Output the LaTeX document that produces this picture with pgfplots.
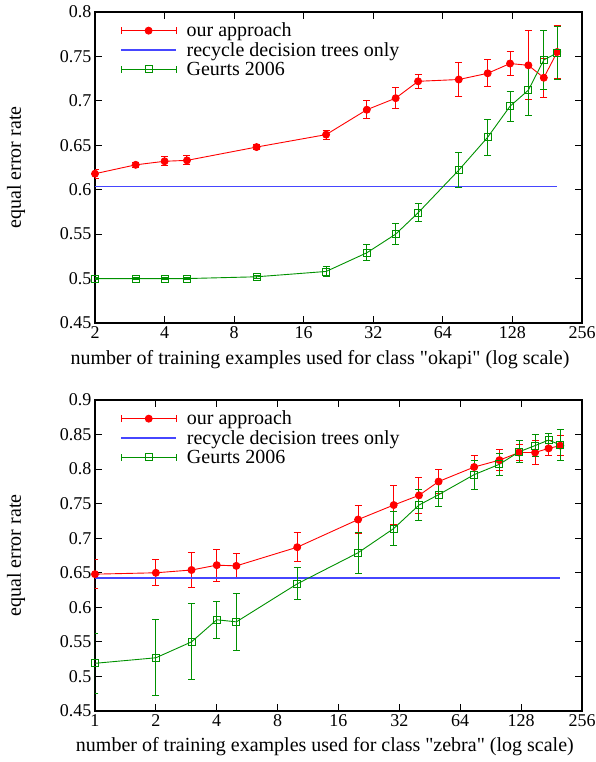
\documentclass[border=0pt]{standalone}
\usepackage{fontspec}
\setmainfont{Liberation Serif}
\usepackage{pgfplots}
\usepackage{pgfplotstable}
\pgfplotsset{compat=1.18}
\pgfplotsset{/pgf/number format/assume math mode=true}

\definecolor{gpred}{RGB}{255,0,0}
\definecolor{gpgreen}{RGB}{0,145,0}
\definecolor{gpblue}{RGB}{70,70,255}

% okapi (top)
\pgfplotstableread{
x   y      e
2   0.618  0.005
3   0.628  0.003
4   0.632  0.005
5   0.633  0.005
10  0.648  0.003
20  0.662  0.005
30  0.690  0.010
40  0.703  0.012
50  0.722  0.008
75  0.724  0.019
100 0.731  0.015
125 0.742  0.013
150 0.740  0.039
175 0.726  0.022
200 0.755  0.030
}\okapiours
\pgfplotstableread{
x   y      e
2   0.500  0.001
3   0.500  0.001
4   0.500  0.001
5   0.500  0.001
10  0.502  0.002
20  0.508  0.006
30  0.529  0.009
40  0.550  0.012
50  0.574  0.010
75  0.622  0.020
100 0.659  0.020
125 0.694  0.017
150 0.712  0.029
175 0.746  0.033
200 0.754  0.030
}\okapigeurts

% zebra (bottom)
\pgfplotstableread{
x   y      e
1   0.648  0.021
2   0.650  0.019
3   0.654  0.026
4   0.661  0.023
5   0.660  0.018
10  0.687  0.021
20  0.727  0.020
30  0.748  0.028
40  0.762  0.026
50  0.782  0.018
75  0.803  0.016
100 0.813  0.015
125 0.824  0.012
150 0.824  0.018
175 0.830  0.011
200 0.834  0.015
}\zebraours
\pgfplotstableread{
x   y      e
1   0.519  0.043
2   0.527  0.055
3   0.550  0.055
4   0.582  0.027
5   0.579  0.041
10  0.634  0.023
20  0.679  0.030
30  0.714  0.024
40  0.748  0.023
50  0.763  0.017
75  0.792  0.021
100 0.807  0.016
125 0.825  0.016
150 0.834  0.016
175 0.842  0.010
200 0.835  0.022
}\zebrageurts

\pgfplotsset{
  every axis/.append style={
    scale only axis, width=487pt, height=311pt,
    tick align=inside, major tick length=7pt,
    tick style={black, line width=0.9pt},
    axis line style={black, line width=1.3pt},
    tick label style={font=\fontsize{18}{20}\selectfont},
    label style={font=\fontsize{20}{22}\selectfont},
    legend cell align=left,
    legend style={draw=none, fill=none, at={(0.05,0.975)},
      anchor=north west, row sep=0pt, column sep=8pt, inner sep=1pt,
      font=\fontsize{20}{22}\selectfont},
  },
  ebar/.style={
    line width=0.9pt,
    error bars/y dir=both, error bars/y explicit,
    error bars/error bar style={line width=1pt, #1},
    error bars/error mark options={rotate=90, mark size=3.5pt, line width=1pt, #1},
  },
  ebarleg/.style={
    legend image code/.code={
      \draw (0pt,0pt) -- (55pt,0pt);
      \draw (0pt,-3.5pt) -- (0pt,3.5pt) (55pt,-3.5pt) -- (55pt,3.5pt);
      \draw[mark repeat=2, mark phase=2] plot coordinates {(0pt,0pt)(27.5pt,0pt)(55pt,0pt)};
    }
  },
  lineleg/.style={
    legend image code/.code={\draw (0pt,0pt) -- (55pt,0pt);}
  },
}

\begin{document}
\begin{tikzpicture}
\path[use as bounding box] (-95pt,-51pt) rectangle (500pt,711pt);

\begin{axis}[at={(0pt,388pt)}, anchor=south west,
  xmode=log, log basis x=2, xmin=2, xmax=256,
  xtick={2,4,8,16,32,64,128,256},
  xticklabels={2,4,8,16,32,64,128,256},
  ymin=0.45, ymax=0.8, ytick={0.45,0.5,...,0.81},
  yticklabel style={/pgf/number format/fixed, /pgf/number format/precision=2},
  ylabel={equal error rate},
  ylabel style={at={(-0.162,0.5)}, anchor=center},
  xlabel={number of training examples used for class \textquotedbl okapi\textquotedbl{} (log scale)},
  xlabel style={at={(0.462,-0.119)}, anchor=center}]
\addplot[gpred, mark=*, mark size=3.5pt, ebar=gpred, ebarleg]
  table[x=x, y=y, y error=e] {\okapiours};
\addlegendentry{our approach}
\addplot[gpblue, line width=1.1pt, lineleg] coordinates {(2,0.6032) (200,0.6032)};
\addlegendentry{recycle decision trees only}
\addplot[gpgreen, mark=square, mark size=3.5pt, ebar=gpgreen, ebarleg]
  table[x=x, y=y, y error=e] {\okapigeurts};
\addlegendentry{Geurts 2006}
\end{axis}

\begin{axis}[at={(0pt,0pt)}, anchor=south west,
  xmode=log, log basis x=2, xmin=1, xmax=256,
  xtick={1,2,4,8,16,32,64,128,256},
  xticklabels={1,2,4,8,16,32,64,128,256},
  ymin=0.45, ymax=0.9, ytick={0.45,0.5,...,0.91},
  yticklabel style={/pgf/number format/fixed, /pgf/number format/precision=2},
  ylabel={equal error rate},
  ylabel style={at={(-0.162,0.5)}, anchor=center},
  xlabel={number of training examples used for class \textquotedbl zebra\textquotedbl{} (log scale)},
  xlabel style={at={(0.472,-0.116)}, anchor=center}]
\addplot[gpred, mark=*, mark size=3.5pt, ebar=gpred, ebarleg]
  table[x=x, y=y, y error=e] {\zebraours};
\addlegendentry{our approach}
\addplot[gpblue, line width=1.4pt, lineleg] coordinates {(1,0.6424) (200,0.6424)};
\addlegendentry{recycle decision trees only}
\addplot[gpgreen, mark=square, mark size=3.5pt, ebar=gpgreen, ebarleg]
  table[x=x, y=y, y error=e] {\zebrageurts};
\addlegendentry{Geurts 2006}
\end{axis}
\end{tikzpicture}
\end{document}
